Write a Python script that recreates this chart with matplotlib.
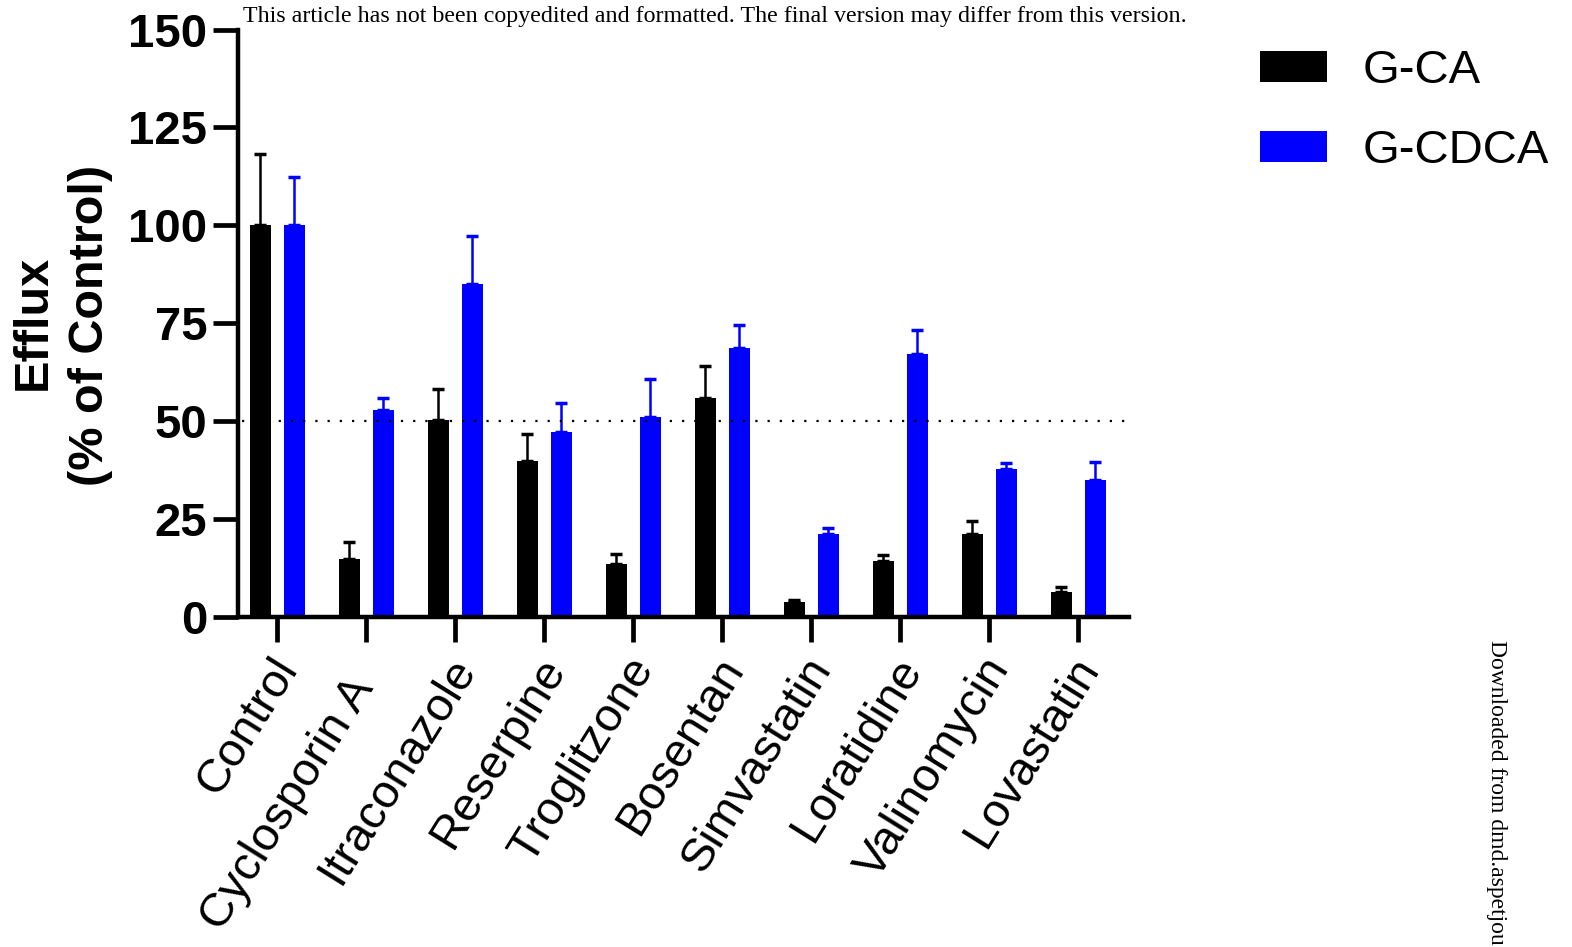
import matplotlib
matplotlib.use('Agg')
import matplotlib.pyplot as plt
import numpy as np

plt.rcParams['font.family'] = ['Liberation Sans', 'DejaVu Sans']

# Efflux (% of control) per inhibitor, mean and upper error
drugs = ['Control', 'Cyclosporin A  ', 'Itraconazole', 'Reserpine', 'Troglitzone',
         'Bosentan', 'Simvastatin', 'Loratidine', 'Valinomycin', 'Lovastatin']
gca_mean = [100, 14.7, 50.4, 39.8, 13.6, 55.9, 3.8, 14.2, 21.1, 6.5]
gca_err = [18.3, 4.4, 7.7, 6.8, 2.4, 8.1, 0.5, 1.6, 3.3, 1.2]
gcdca_mean = [100, 52.8, 85.1, 47.2, 51.1, 68.7, 21.1, 67.1, 37.8, 35.1]
gcdca_err = [12.3, 3.1, 12.1, 7.4, 9.7, 5.9, 1.7, 6.1, 1.4, 4.4]

BLUE = '#0000FF'

fig = plt.figure(figsize=(15.72, 9.47), dpi=100)
ax = fig.add_axes([0.1514, 0.3485, 0.5668, 0.6203])

x = np.arange(len(drugs))
w = 0.236
off = 0.19
ax.bar(x - off, gca_mean, w, color='black', label='G-CA', zorder=2)
ax.bar(x + off, gcdca_mean, w, color=BLUE, label='G-CDCA', zorder=2)
ax.errorbar(x - off, gca_mean, yerr=[np.zeros(len(x)), gca_err], fmt='none',
            ecolor='black', elinewidth=1.8, capsize=4, capthick=2.5, zorder=3)
ax.errorbar(x + off, gcdca_mean, yerr=[np.zeros(len(x)), gcdca_err], fmt='none',
            ecolor=BLUE, elinewidth=1.8, capsize=4, capthick=2.5, zorder=3)

# 50% reference line
ax.axhline(50, xmin=0.005, color='black', linestyle=(0, (1, 4.5)),
           linewidth=1.6, zorder=4)

ax.set_xlim(-0.44, 9.57)
ax.set_ylim(0, 150)
ax.set_yticks([0, 25, 50, 75, 100, 125, 150])
ax.set_xticks(x)
ax.set_xticklabels([])
for s in ['top', 'right']:
    ax.spines[s].set_visible(False)
ax.spines['left'].set_linewidth(3.2)
ax.spines['bottom'].set_linewidth(3.2)
ax.spines['bottom'].set_zorder(5)
ax.tick_params(axis='y', length=18, width=3.4, labelsize=34, pad=4)
ax.tick_params(axis='x', length=18, width=3.4)
for t in ax.get_yticklabels():
    t.set_fontweight('bold')

for i, name in enumerate(drugs):
    ax.annotate(name, xy=(i, 0), xycoords=('data', 'axes fraction'),
                xytext=(8, -32), textcoords='offset points',
                rotation=58, rotation_mode='anchor', ha='right', va='center',
                fontsize=34)

fig.text(33 / 1572, 1 - 322 / 947, 'Efflux', rotation=90, ha='center', va='center',
         fontsize=35, fontweight='bold')
fig.text(91 / 1572, 1 - 325 / 947, '(% of Control)', rotation=90, ha='center',
         va='center', fontsize=35, fontweight='bold')

fig.legend(loc='upper left', bbox_to_anchor=(1260 / 1572, 1 - 49 / 947),
           frameon=False, fontsize=34, handlelength=1.42, handleheight=0.64,
           handletextpad=0.75, labelspacing=0.76, borderpad=0, borderaxespad=0)

fig.text(243 / 1572, 1 - 22 / 947,
         'This article has not been copyedited and formatted. '
         'The final version may differ from this version.',
         family='Liberation Serif', fontsize=17.3, ha='left', va='baseline')
fig.text(1496 / 1572, 1 - 640 / 947, 'Downloaded from dmd.aspetjou',
         family='Liberation Serif', fontsize=17, rotation=-90,
         rotation_mode='anchor', ha='left', va='center')

fig.savefig('out.png', dpi=100)
